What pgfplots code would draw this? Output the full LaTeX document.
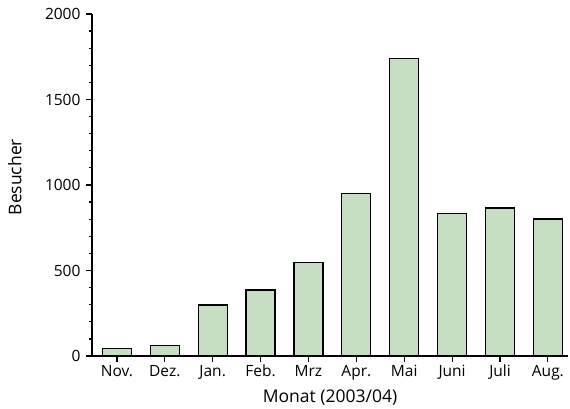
\documentclass[border=0pt]{standalone}
\usepackage{fontspec}
\setmainfont{Open Sans}
\usepackage{pgfplots}
\pgfplotsset{compat=1.18}
\definecolor{barfill}{RGB}{199,222,196}
\begin{document}
\begin{tikzpicture}
\begin{axis}[
  name=ax,
  scale only axis, width=476pt, height=342pt,
  xmin=-0.52, xmax=9.42, ymin=0, ymax=2000,
  axis lines*=left,
  axis line style={line width=1.4pt},
  xtick={0,...,9},
  xticklabels={Nov.,Dez.,Jan.,Feb.,Mrz,Apr.,Mai,Juni,Juli,Aug.},
  ytick={0,500,1000,1500,2000},
  minor y tick num=4,
  tick align=outside,
  major tick length=6pt, minor tick length=3pt,
  tick style={black, line width=1.2pt},
  /pgf/number format/assume math mode=true,
  /pgf/number format/1000 sep={},
  ticklabel style={font=\fontsize{15.5}{17}\selectfont},
  xticklabel style={anchor=base, yshift=-14pt},
  yticklabel style={xshift=-2pt},
  xlabel={Monat (2003/04)},
  ylabel={Besucher},
  xlabel style={font=\fontsize{17.5}{20}\selectfont, at={(axis description cs:0.5,0)}, anchor=base, yshift=-46.5pt},
  ylabel style={font=\fontsize{17.5}{20}\selectfont, at={(axis description cs:-0.162,0.523)}, anchor=center},
  clip=false,
]
\addplot[ybar, bar width=29pt, fill=barfill, draw=black, line width=1.2pt]
  coordinates {(0,44) (1,62) (2,298) (3,386) (4,546) (5,952) (6,1740) (7,832) (8,866) (9,801)};
\end{axis}
\path ([yshift=14pt]ax.north) ([yshift=-51pt]ax.south) ([xshift=-92pt]ax.west) ([xshift=2pt]ax.east);
\end{tikzpicture}
\end{document}
